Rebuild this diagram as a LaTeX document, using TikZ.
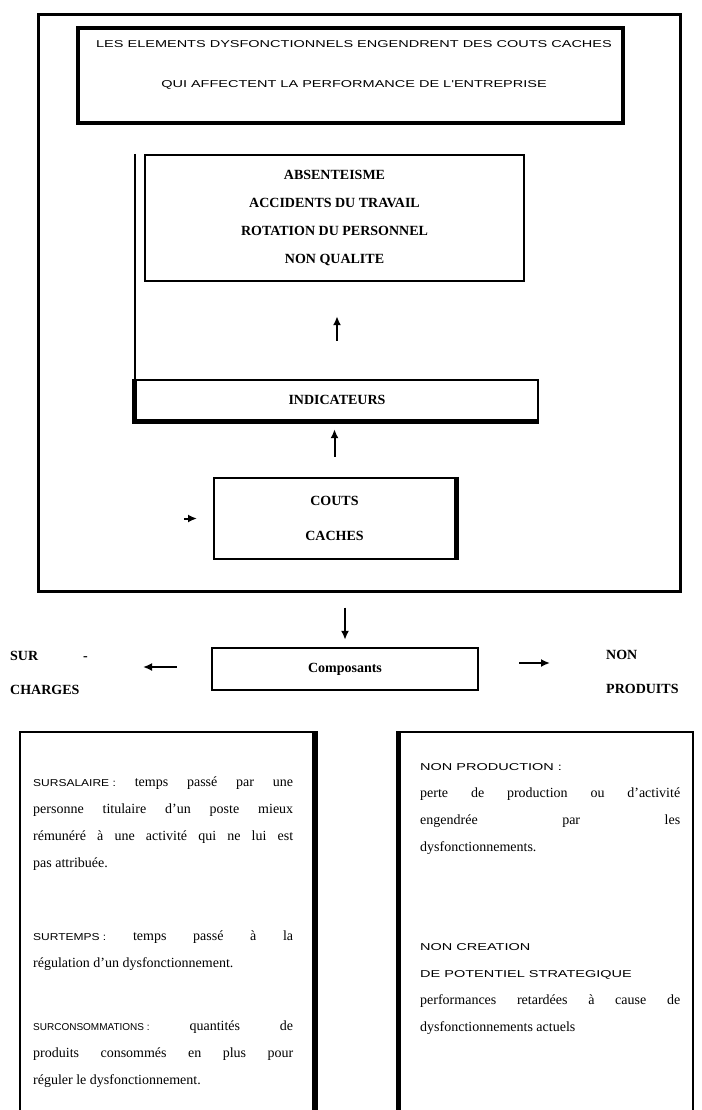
\documentclass[tikz,border=0pt]{standalone}
\usepackage{fontspec}
\usepackage{graphicx}
\setmainfont{Liberation Serif}
\newfontfamily\capsfont{Liberation Sans}
\usetikzlibrary{arrows.meta,positioning,calc}
\newcommand{\maj}[2][1.45]{{\capsfont\fontsize{10}{11}\selectfont\scalebox{#1}[1]{#2}}}

\begin{document}
\begin{tikzpicture}[x=1pt,y=-1pt,
  cadre/.style={draw,line width=2.4pt,inner sep=0pt},
  gras/.style={font=\bfseries\fontsize{14}{28}\selectfont,align=center},
  texte/.style={font=\fontsize{14}{27}\selectfont,text width=260pt,align=justify,inner sep=0pt,anchor=north west},
  fleche/.style={-{Latex[length=9pt,width=8pt]},line width=2pt}]
  \clip (0,0) rectangle (701,1110);

  % le grand cadre et ses boites
  \node[cadre,line width=3pt,minimum width=642pt,minimum height=576pt] (global) at (359,303) {};
  \node[cadre,line width=3.5pt,minimum width=545pt,minimum height=95pt] (effets) at (350.5,75.5) {};
  \node[align=center,font=\fontsize{10}{40}\selectfont] (titre) at (354,65)
    {\maj{LES ELEMENTS DYSFONCTIONNELS ENGENDRENT DES COUTS CACHES}\\
     \maj{QUI AFFECTENT LA PERFORMANCE DE L'ENTREPRISE}};

  \node[cadre,gras,minimum width=379pt,minimum height=126pt] (dysf) at (334.5,218)
    {ABSENTEISME\\ACCIDENTS DU TRAVAIL\\ROTATION DU PERSONNEL\\NON QUALITE};
  \node[cadre,gras,minimum width=402pt,minimum height=40pt] (indic) at (337,400) {INDICATEURS};
  \node[cadre,gras,font=\bfseries\fontsize{14}{35}\selectfont,minimum width=241pt,minimum height=81pt] (couts) at (334.5,518.5)
    {COUTS\\CACHES};

  % ombres
  \draw[line width=2pt] (indic.north west |- dysf.north) -- (indic.north west);
  \draw[line width=5pt] (indic.north west) -- (indic.south west) -- (indic.south east);
  \draw[line width=5pt] (couts.north east) -- (couts.south east);

  \draw[fleche,shorten <=38pt,shorten >=34pt] (indic.north) -- (indic.north |- dysf.south);
  \draw[fleche,shorten <=20pt,shorten >=8pt] (couts.north) -- (couts.north |- indic.south);
  \coordinate (amorce) at (184,518.5);
  \draw[fleche] (amorce) -- ++(13,0);

  % composants
  \node[cadre,gras,minimum width=266pt,minimum height=42pt] (compo) at (345,669) {Composants};
  \node[gras,font=\bfseries\fontsize{14}{34}\selectfont,align=left,anchor=west,inner sep=0pt] (surch) at (10,673)
    {SUR\hspace{45pt}-\\CHARGES};
  \node[gras,font=\bfseries\fontsize{14}{34}\selectfont,align=left,anchor=west,inner sep=0pt] (nonprod) at (606,672)
    {NON\\PRODUITS};
  \draw[fleche,shorten <=15pt,shorten >=7pt] (compo.north |- global.south) -- (compo.north);
  \coordinate (versg) at (143,667);
  \coordinate (versd) at (550,663);
  \draw[fleche,shorten <=34pt] (compo.west |- versg) -- (versg);
  \draw[fleche,shorten <=40pt] (compo.east |- versd) -- (versd);

  % definitions
  \node[draw,line width=2pt,minimum width=294pt,minimum height=400pt] (gauche) at (167,932) {};
  \node[draw,line width=2pt,minimum width=294pt,minimum height=400pt] (droite) at (546,932) {};
  \draw[line width=6pt] (gauche.north east) -- (gauche.south east);
  \draw[line width=5pt] (droite.north west) -- (droite.south west);

  \node[texte] (sursal) at (33,777)
    {\maj[1.2]{SURSALAIRE :} temps passé par une\linebreak personne titulaire d'un poste mieux\linebreak
     rémunéré à une activité qui ne lui est\linebreak pas attribuée.};
  \node[texte] (surtps) at (33,931)
    {\maj[1.2]{SURTEMPS :} temps passé à la\linebreak régulation d'un dysfonctionnement.};
  \node[texte] (surcons) at (33,1021)
    {\maj[1.0]{SURCONSOMMATIONS :} quantités de\linebreak produits consommés en plus pour\linebreak
     réguler le dysfonctionnement.};
  \node[texte] (nonpro) at (420,763)
    {\maj{NON PRODUCTION :}\\ perte de production ou d'activité\linebreak engendrée par les\linebreak
     dysfonctionnements.};
  \node[texte] (noncre) at (420,943)
    {\maj{NON CREATION}\\ \maj{DE POTENTIEL STRATEGIQUE}\\ performances retardées à cause de\linebreak
     dysfonctionnements actuels};
\end{tikzpicture}
\end{document}
